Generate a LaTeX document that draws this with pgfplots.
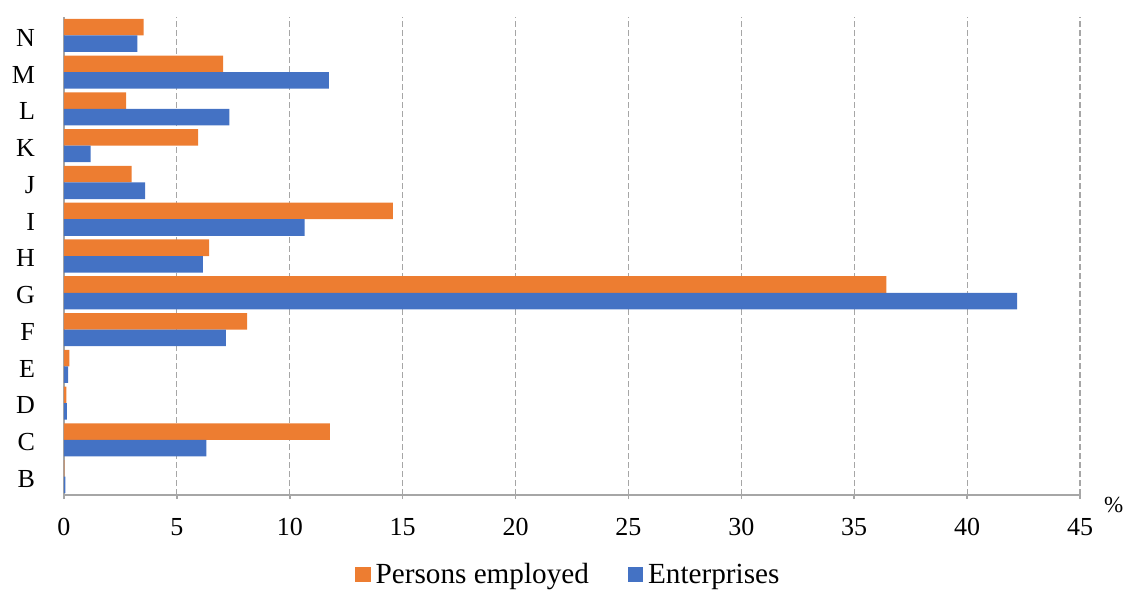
\documentclass[border=0pt]{standalone}
\usepackage{pgfplots}
\pgfplotsset{compat=1.18}
\usetikzlibrary{calc}
\usepackage{fontspec}
\setmainfont{Liberation Serif}
\definecolor{empOrange}{HTML}{ED7D31}
\definecolor{entBlue}{HTML}{4472C4}
\definecolor{axisGrey}{HTML}{A6A6A6}

% Share of persons employed and of enterprises by NACE section, %
\pgfplotstableread{
pos sect employed enterprises
0  B 0.02  0.06
1  C 11.78 6.31
2  D 0.10  0.13
3  E 0.24  0.18
4  F 8.11  7.17
5  G 36.42 42.22
6  H 6.43  6.15
7  I 14.57 10.66
8  J 2.99  3.59
9  K 5.94  1.18
10 L 2.75  7.33
11 M 7.05  11.73
12 N 3.53  3.25
}\sectiondata

\begin{document}
\begin{tikzpicture}
\begin{axis}[
  scale only axis,
  width=508pt, height=239pt,
  xmin=0, xmax=45,
  ymin=-0.5, ymax=12.5,
  xtick={0,5,...,45},
  ytick={0,...,12},
  yticklabels={B,C,D,E,F,G,H,I,J,K,L,M,N},
  minor ytick={-0.5,0.5,...,12.5},
  major tick length=2pt,
  minor tick length=4pt,
  tick align=outside,
  tick style={axisGrey, line width=0.75pt},
  ytick style={draw=none},
  minor tick style={draw=axisGrey, line width=0.75pt},
  axis x line*=bottom,
  axis y line*=left,
  axis line style={axisGrey, line width=0.75pt, -},
  xmajorgrids,
  major grid style={axisGrey, dash pattern=on 3pt off 1.5pt, line width=0.6pt},
  xticklabel style={font=\fontsize{13}{15}\selectfont, yshift=-6pt},
  yticklabel style={font=\fontsize{13}{15}\selectfont, xshift=-9pt, yshift=-1.2pt},
  /pgf/number format/assume math mode=true,
  xbar,
  bar width=0.45,
  legend columns=2,
  legend style={draw=none, at={(0.498,-0.167)}, anchor=center,
    font=\fontsize{14.6}{16}\selectfont,
    nodes={inner xsep=2.5pt},
    /tikz/every even column/.append style={column sep=17pt}},
  legend image code/.code={\fill[#1] (0pt,-3.8pt) rectangle (7.6pt,3.8pt);},
  clip=false,
]
\addplot[fill=empOrange, draw=none, bar shift=0.225] table[x=employed, y=pos] {\sectiondata};
\addlegendentry{Persons employed}
\addplot[fill=entBlue, draw=none, bar shift=-0.225] table[x=enterprises, y=pos] {\sectiondata};
\addlegendentry{Enterprises}
\node[font=\fontsize{11.5}{13}\selectfont, anchor=west] at (rel axis cs:1,0) [xshift=8.5pt, yshift=-5pt] {\%};
\end{axis}
\pgfresetboundingbox
\path[use as bounding box] ($(current axis.south west)+(-32pt,-48pt)$) rectangle ($(current axis.north east)+(23pt,8.5pt)$);
\end{tikzpicture}
\end{document}
